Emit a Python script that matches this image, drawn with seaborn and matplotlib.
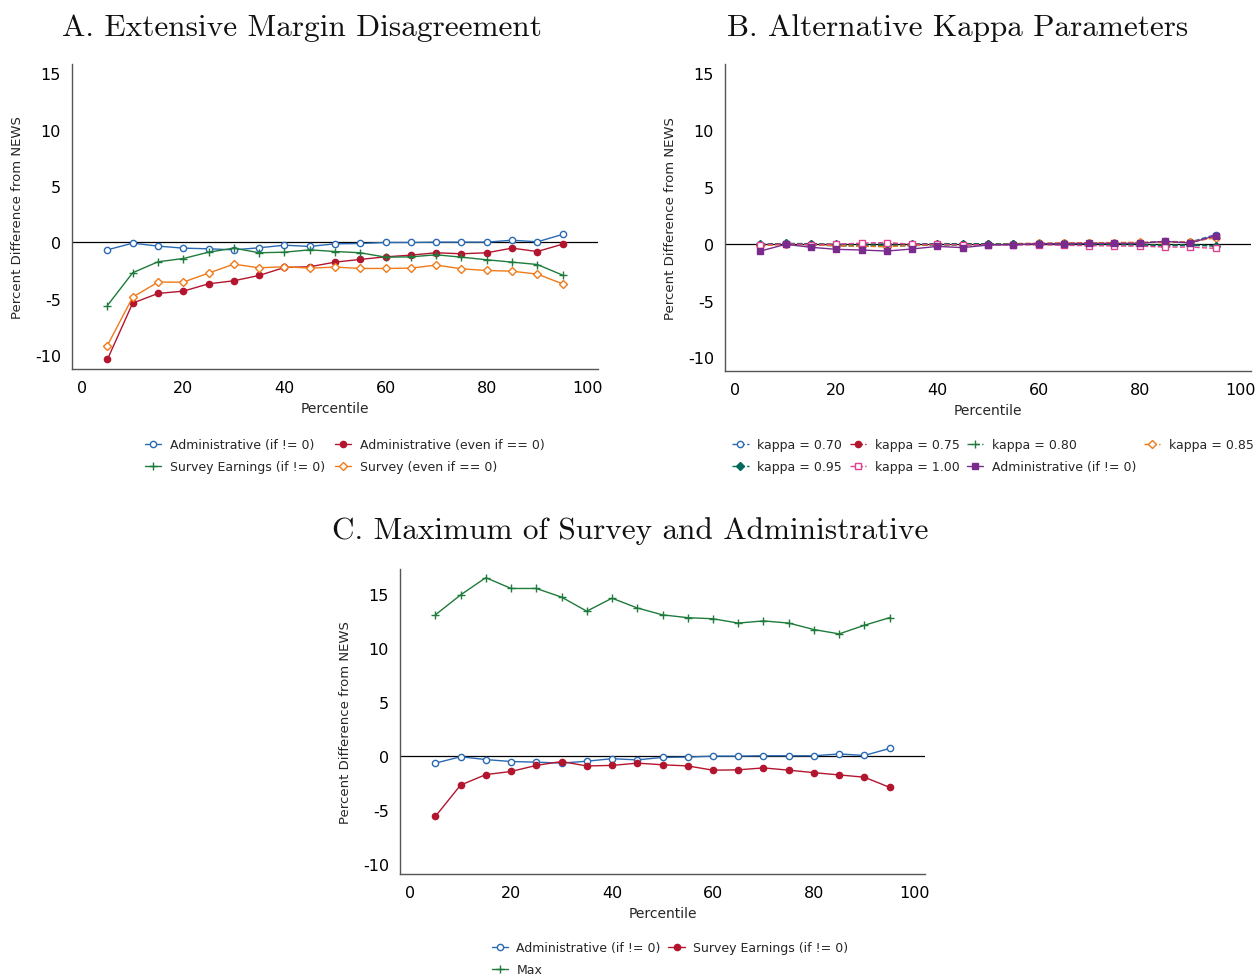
import numpy as np
import pandas as pd
import matplotlib
matplotlib.use("Agg")
import matplotlib.pyplot as plt
import seaborn as sns

sns.set_theme(style="white")
plt.rcParams['font.family'] = ['DejaVu Sans']
plt.rcParams['axes.unicode_minus'] = False

percentile = [5, 10, 15, 20, 25, 30, 35, 40, 45, 50, 55, 60, 65, 70, 75, 80, 85, 90, 95]

admin_nonzero = [-0.65, -0.06, -0.32, -0.50, -0.56, -0.65, -0.47, -0.24, -0.35, -0.12,
                 -0.09, 0.00, 0.00, 0.03, 0.03, 0.03, 0.20, 0.06, 0.71]
admin_even = [-10.35, -5.37, -4.51, -4.31, -3.66, -3.39, -2.92, -2.21, -2.15, -1.74,
              -1.50, -1.27, -1.12, -0.91, -1.00, -0.91, -0.50, -0.80, -0.15]
survey_nonzero = [-5.58, -2.68, -1.71, -1.42, -0.86, -0.50, -0.91, -0.86, -0.65, -0.80,
                  -0.91, -1.30, -1.27, -1.09, -1.30, -1.53, -1.74, -1.95, -2.89]
survey_even = [-9.12, -4.84, -3.51, -3.51, -2.71, -1.92, -2.24, -2.15, -2.27, -2.18,
               -2.30, -2.30, -2.27, -2.00, -2.33, -2.48, -2.54, -2.80, -3.66]

kappa_070 = [-0.15, -0.02, -0.10, -0.20, -0.22, -0.25, -0.18, -0.10, -0.12, -0.05,
             -0.03, 0.00, 0.02, 0.05, 0.05, 0.08, 0.20, 0.15, 0.80]
kappa_075 = [-0.10, 0.00, -0.05, -0.10, -0.12, -0.15, -0.10, -0.05, -0.06, -0.02,
             0.00, 0.02, 0.04, 0.06, 0.06, 0.08, 0.15, 0.12, 0.60]
kappa_080 = [-0.12, -0.02, -0.08, -0.15, -0.18, -0.20, -0.12, -0.08, -0.10, -0.05,
             -0.03, -0.02, -0.02, -0.03, -0.05, -0.08, -0.12, -0.10, -0.20]
kappa_085 = [-0.20, -0.05, -0.10, -0.18, -0.22, -0.28, -0.15, -0.08, -0.10, -0.05,
             0.00, 0.02, 0.05, 0.08, 0.10, 0.12, 0.10, 0.18, 0.50]
kappa_095 = [-0.05, 0.02, 0.00, -0.05, -0.05, -0.02, -0.02, 0.00, 0.00, -0.02,
             -0.05, -0.05, -0.06, -0.08, -0.10, -0.12, -0.18, -0.15, -0.20]
kappa_100 = [-0.10, -0.02, -0.08, -0.05, 0.05, 0.10, -0.05, -0.06, -0.08, -0.10,
             -0.12, -0.10, -0.15, -0.18, -0.20, -0.22, -0.30, -0.30, -0.42]

max_series = [13.06, 14.90, 16.50, 15.50, 15.50, 14.70, 13.40, 14.60, 13.70, 13.06,
              12.80, 12.70, 12.30, 12.50, 12.30, 11.70, 11.30, 12.10, 12.80]

x_ticks = [0, 20, 40, 60, 80, 100]
y_ticks = [15, 10, 5, 0, -5, -10]

C_BLUE = '#2a6ab3'
C_RED = '#b3152e'
C_GREEN = '#1e7b3b'
C_ORANGE = '#f07a19'
C_TEAL = '#00695c'
C_PINK = '#e0408f'
C_PURPLE = '#7b2a8e'

fig = plt.figure(figsize=(12.57, 9.78), dpi=100)
W, H = 1257, 978

def make_ax(l, t, r, b):
    return fig.add_axes([l / W, 1 - b / H, (r - l) / W, (b - t) / H])

def fx(px):
    return px / W

def fy(py):
    return 1 - py / H

axA = make_ax(72, 65, 598, 370)
axB = make_ax(725, 65, 1251, 372)
axC = make_ax(400, 570, 925, 875)

title_kw = dict(family='cmr10', size=22.5, ha='center', va='center', color='#111111')
fig.text(fx(301.5), fy(28), 'A. Extensive Margin Disagreement', **title_kw)
fig.text(fx(957.5), fy(28), 'B. Alternative Kappa Parameters', **title_kw)
fig.text(fx(630.5), fy(531), 'C. Maximum of Survey and Administrative', **title_kw)

def style(ax, ylim):
    ax.set_xlim(-2, 102)
    ax.set_ylim(*ylim)
    ax.set_xticks(x_ticks)
    ax.set_yticks(y_ticks)
    ax.set_yticklabels([str(v) for v in y_ticks])
    for s in ['top', 'right']:
        ax.spines[s].set_visible(False)
    for s in ['left', 'bottom']:
        ax.spines[s].set_color('#555555')
        ax.spines[s].set_linewidth(1.0)
    ax.tick_params(axis='both', length=0, labelsize=11.5, colors='black', pad=8)
    ax.axhline(0, color='black', lw=0.9, zorder=1)
    ax.set_xlabel('Percentile', fontsize=10)
    ax.set_ylabel('Percent Difference from NEWS', fontsize=9.5, labelpad=8)
    ax.grid(False)

def series(ax, y, color, marker, label, filled, ls='-', ms=4.5, mew=1.0):
    df = pd.DataFrame({'x': percentile, 'y': y})
    sns.lineplot(data=df, x='x', y='y', ax=ax, color=color, lw=1.0, ls=ls,
                 marker=marker, markersize=ms, markeredgewidth=mew,
                 markerfacecolor=color if filled else 'white',
                 markeredgecolor=color, label=label, zorder=3)

leg_kw = dict(frameon=False, fontsize=9, handlelength=1.3,
              handletextpad=0.7, labelspacing=0.75, borderaxespad=0, borderpad=0,
              loc='upper center', bbox_transform=fig.transFigure)

# Panel A
series(axA, admin_nonzero, C_BLUE, 'o', 'Administrative (if != 0)', False)
series(axA, admin_even, C_RED, 'o', 'Administrative (even if == 0)', True)
series(axA, survey_nonzero, C_GREEN, '+', 'Survey Earnings (if != 0)', True, ms=6)
series(axA, survey_even, C_ORANGE, 'D', 'Survey (even if == 0)', False, ms=4.5)
style(axA, (-11.2, 15.8))
handles, labels = axA.get_legend_handles_labels()
order = [0, 2, 1, 3]
axA.legend([handles[i] for i in order], [labels[i] for i in order], ncol=2,
           bbox_to_anchor=(fx(345), fy(439)), columnspacing=0.8, **leg_kw)

# Panel B
series(axB, kappa_070, C_BLUE, 'o', 'kappa = 0.70', False, ls='--')
series(axB, kappa_075, C_RED, 'o', 'kappa = 0.75', True, ls='--')
series(axB, kappa_080, C_GREEN, '+', 'kappa = 0.80', True, ls='--', ms=6)
series(axB, kappa_085, C_ORANGE, 'D', 'kappa = 0.85', False, ls='--')
series(axB, kappa_095, C_TEAL, 'D', 'kappa = 0.95', True, ls='--')
series(axB, kappa_100, C_PINK, 's', 'kappa = 1.00', False, ls='--')
series(axB, admin_nonzero, C_PURPLE, 's', 'Administrative (if != 0)', True, ms=5)
style(axB, (-11.2, 15.8))
handles, labels = axB.get_legend_handles_labels()
order = [0, 4, 1, 5, 2, 6, 3]
axB.legend([handles[i] for i in order], [labels[i] for i in order], ncol=4,
           bbox_to_anchor=(fx(993), fy(439)), columnspacing=0.6, **leg_kw)

# Panel C
series(axC, admin_nonzero, C_BLUE, 'o', 'Administrative (if != 0)', False)
series(axC, survey_nonzero, C_RED, 'o', 'Survey Earnings (if != 0)', True)
series(axC, max_series, C_GREEN, '+', 'Max', True, ms=6)
style(axC, (-10.9, 17.3))
handles, labels = axC.get_legend_handles_labels()
order = [0, 2, 1]
axC.legend([handles[i] for i in order], [labels[i] for i in order], ncol=2,
           bbox_to_anchor=(fx(670), fy(942)), columnspacing=0.6, **leg_kw)

fig.savefig('out.png', dpi=100)
